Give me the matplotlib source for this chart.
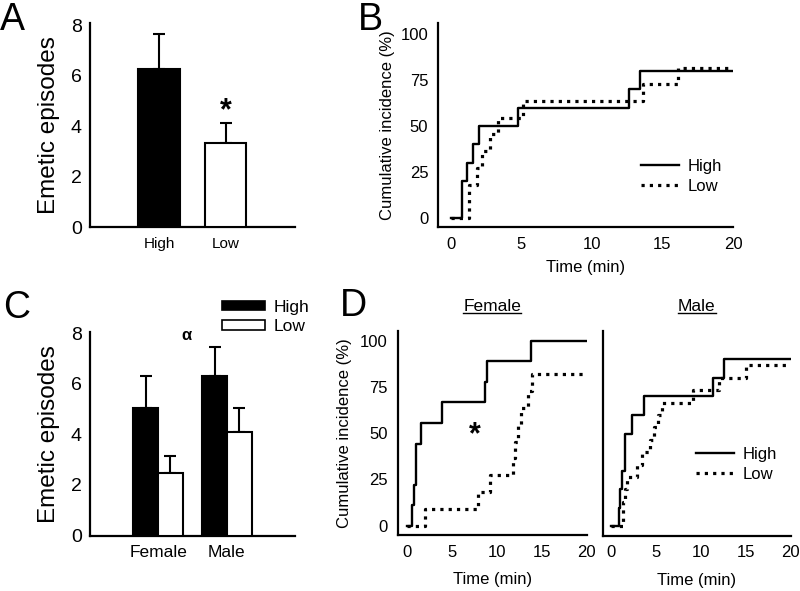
import matplotlib
matplotlib.use("Agg")
import matplotlib.pyplot as plt
from matplotlib.lines import Line2D
from matplotlib.patches import Patch

plt.rcParams['font.family'] = ['Liberation Sans', 'DejaVu Sans']

# ---------------- data ----------------
groups_A = ["High", "Low"]
A_means = [6.25, 3.33]
A_err = [1.40, 0.80]

groups_C = ["Female", "Male"]
C_high = [5.05, 6.33]
C_high_err = [1.27, 1.15]
C_low = [2.47, 4.10]
C_low_err = [0.69, 0.96]

B_high_t = [0, 0.76, 0.76, 1.11, 1.59, 2.00, 4.73, 12.60, 13.37, 20]
B_high_v = [0, 10, 20, 30, 40, 50, 60, 70, 80, 80]
B_low_t = [0, 1.30, 1.82, 2.18, 2.77, 3.36, 5.14, 13.60, 16.07, 20]
B_low_v = [0, 18.2, 27.3, 36.4, 45.5, 54.5, 63.6, 72.7, 81.8, 81.8]

F_high_t = [0, 0.59, 0.81, 1.07, 1.63, 3.96, 8.70, 8.96, 13.78, 20]
F_high_v = [0, 11.1, 22.2, 44.4, 55.6, 66.7, 77.8, 88.9, 100, 100]
F_low_t = [0, 2.07, 7.90, 9.26, 11.85, 12.00, 12.40, 12.70, 13.45, 13.95, 20]
F_low_v = [0, 9.1, 18.2, 27.3, 36.4, 45.5, 54.5, 63.6, 72.7, 81.8, 81.8]

M_high_t = [0, 0.89, 1.00, 1.19, 1.56, 2.30, 3.71, 11.39, 12.62, 20]
M_high_v = [0, 10, 20, 30, 50, 60, 70, 80, 90, 90]
M_low_t = [0, 1.37, 1.55, 1.80, 2.85, 3.40, 4.30, 4.75, 5.25, 5.65, 9.17, 12.06, 15.03, 20]
M_low_v = [0, 13.3, 20, 26.7, 33.3, 40, 46.7, 53.3, 60, 66.7, 73.3, 80, 86.7, 86.7]

cum_ticks = [0, 25, 50, 75, 100]
time_ticks = [0, 5, 10, 15, 20]
bar_ticks = [0, 2, 4, 6, 8]

W, H = 800, 591
fig = plt.figure(figsize=(8, 5.91), dpi=100)


def px_axes(l, t, r, b):
    return fig.add_axes([l / W, 1 - b / H, (r - l) / W, (b - t) / H])


def style(ax):
    for s in ["top", "right"]:
        ax.spines[s].set_visible(False)
    for s in ["left", "bottom"]:
        ax.spines[s].set_linewidth(1.6)
    ax.tick_params(length=0)


LW = 1.7
DOT = dict(color="black", linestyle=(0, (1, 1.6)), linewidth=2.3)
SOL = dict(color="black", linestyle="-", linewidth=LW)

# ---------------- Panel A ----------------
axA = px_axes(90, 23.3, 295, 227)
style(axA)
xA = list(range(len(groups_A)))
axA.bar(xA, A_means, width=0.63, color=["black", "white"], edgecolor="black", linewidth=1.5, zorder=3)
axA.errorbar(xA, A_means, yerr=[[0] * 2, A_err], fmt="none", ecolor="black",
             elinewidth=1.5, capsize=4, capthick=1.5, zorder=2)
axA.set_xlim(-1.04, 2.045)
axA.set_ylim(0, 8.07)
axA.set_yticks(bar_ticks)
axA.set_xticks(xA)
axA.set_xticklabels(groups_A, fontsize=11)
axA.tick_params(axis="y", labelsize=14, pad=6)
axA.tick_params(axis="x", pad=7)
axA.set_ylabel("Emetic episodes", fontsize=17.5, labelpad=8)
axA.text(1, A_means[1] + A_err[1] + 0.45, "*", ha="center", va="center",
         fontsize=22, fontweight="bold")

# ---------------- Panel B ----------------
axB = px_axes(438, 23, 733, 227)
style(axB)
axB.step(B_high_t, B_high_v, where="post", label="High", **SOL)
axB.step(B_low_t, B_low_v, where="post", label="Low", **DOT)
axB.set_xlim(-0.92, 20)
axB.set_ylim(-4.9, 106)
axB.set_xticks(time_ticks)
axB.set_yticks(cum_ticks)
axB.tick_params(labelsize=12, pad=7)
axB.set_xlabel("Time (min)", fontsize=12, labelpad=6)
axB.set_ylabel("Cumulative incidence (%)", fontsize=12, labelpad=4)
axB.legend(frameon=False, fontsize=12, handlelength=2.3, handletextpad=0.5,
           labelspacing=0.3, loc="upper left", bbox_to_anchor=(0.66, 0.375), borderpad=0)

# ---------------- Panel C ----------------
axC = px_axes(90, 331.7, 295, 535.5)
style(axC)
xC = list(range(len(groups_C)))
bw = 0.36
xh = [x - bw / 2 for x in xC]
xl = [x + bw / 2 for x in xC]
axC.bar(xh, C_high, width=bw, color="black", edgecolor="black", linewidth=1.5, zorder=3)
axC.bar(xl, C_low, width=bw, color="white", edgecolor="black", linewidth=1.5, zorder=3)
axC.errorbar(xh, C_high, yerr=[[0] * 2, C_high_err], fmt="none", ecolor="black",
             elinewidth=1.5, capsize=4, capthick=1.5, zorder=2)
axC.errorbar(xl, C_low, yerr=[[0] * 2, C_low_err], fmt="none", ecolor="black",
             elinewidth=1.5, capsize=4, capthick=1.5, zorder=2)
axC.set_xlim(-0.99, 1.99)
axC.set_ylim(0, 8.07)
axC.set_yticks(bar_ticks)
axC.set_xticks(xC)
axC.set_xticklabels(groups_C, fontsize=12.5)
axC.tick_params(axis="y", labelsize=14, pad=6)
axC.tick_params(axis="x", pad=7)
axC.set_ylabel("Emetic episodes", fontsize=17.5, labelpad=8)
axC.text(0.42, 7.9, "α", ha="center", va="center", fontsize=12, fontweight="bold")
handlesC = [Patch(facecolor="black", edgecolor="black", linewidth=1.2),
            Patch(facecolor="white", edgecolor="black", linewidth=1.2)]
axC.legend(handlesC, ["High", "Low"], frameon=False, fontsize=12.5, handlelength=2.5,
           handleheight=0.5, handletextpad=0.5, labelspacing=0.25,
           loc="upper left", bbox_to_anchor=(0.6, 1.2), borderpad=0)

# ---------------- Panel D female ----------------
axF = px_axes(397.7, 330.7, 586.5, 535)
style(axF)
axF.step(F_high_t, F_high_v, where="post", **SOL)
axF.step(F_low_t, F_low_v, where="post", **DOT)
axF.set_xlim(-1.0, 20)
axF.set_ylim(-5.0, 105.4)
axF.set_xticks(time_ticks)
axF.set_yticks(cum_ticks)
axF.tick_params(labelsize=12, pad=7)
axF.set_xlabel("Time (min)", fontsize=12, labelpad=9)
axF.set_ylabel("Cumulative incidence (%)", fontsize=12, labelpad=6)
tF = axF.set_title("Female", fontsize=12.5, pad=14)
axF.text(7.6, 49, "*", ha="center", va="center", fontsize=22, fontweight="bold")

# ---------------- Panel D male ----------------
axM = px_axes(602.7, 330.7, 790.7, 535.7)
style(axM)
axM.step(M_high_t, M_high_v, where="post", label="High", **SOL)
axM.step(M_low_t, M_low_v, where="post", label="Low", **DOT)
axM.set_xlim(-0.92, 20)
axM.set_ylim(-5.0, 105.4)
axM.set_xticks(time_ticks)
axM.set_yticks([])
axM.tick_params(labelsize=12, pad=7)
axM.set_xlabel("Time (min)", fontsize=12, labelpad=9)
tM = axM.set_title("Male", fontsize=12.5, pad=14)
axM.legend(frameon=False, fontsize=12, handlelength=2.3, handletextpad=0.5,
           labelspacing=0.3, loc="upper left", bbox_to_anchor=(0.45, 0.475), borderpad=0)

# underline the D titles
fig.canvas.draw()
renderer = fig.canvas.get_renderer()
for t in (tF, tM):
    bb = t.get_window_extent(renderer)
    yline = bb.y0 + 1
    fig.add_artist(Line2D([bb.x0 / W, bb.x1 / W], [yline / H, yline / H],
                          transform=fig.transFigure, color="black", linewidth=1.0))

# ---------------- panel letters ----------------
for lab, x, y in [("A", 0, 2), ("B", 358, 2), ("C", 3, 290), ("D", 340, 288)]:
    fig.text(x / W, 1 - y / H, lab, fontsize=27, ha="left", va="top")

fig.savefig("out.png", dpi=100)
